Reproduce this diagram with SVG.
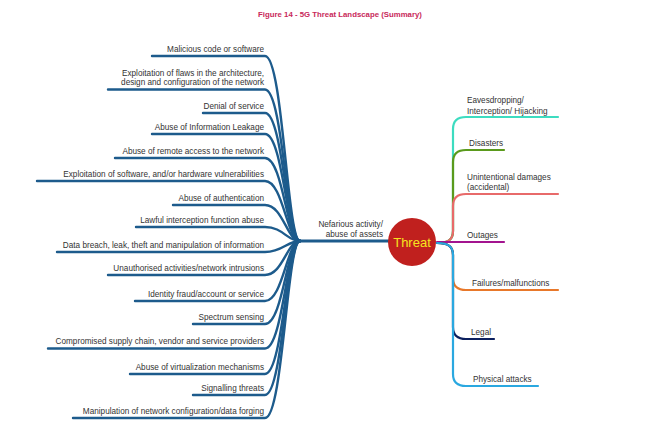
<svg xmlns="http://www.w3.org/2000/svg" width="650" height="439" viewBox="0 0 650 439">
<style>
.t{font-family:"Liberation Sans",Arial,sans-serif;font-size:8.2px;fill:#333}
.l{text-anchor:end}
.b{fill:none;stroke:#1d5b8c;stroke-width:2.4;stroke-linecap:round}
.r{fill:none;stroke-width:2.2;stroke-linecap:round}
</style>
<rect width="650" height="439" fill="#fff"/>
<text x="340" y="17" text-anchor="middle" style="font-family:'Liberation Sans',Arial,sans-serif;font-size:7.8px;font-weight:bold;fill:#c8285a">Figure 14 - 5G Threat Landscape (Summary)</text>
<g id="connectors">
<path class="b" d="M152,56 L265,56 C283,56 287,241 300,241"/>
<path class="b" d="M108,89.5 L265,89.5 C283,89.5 287,241 300,241"/>
<path class="b" d="M203,113 L265,113 C283,113 287,241 300,241"/>
<path class="b" d="M152,134 L265,134 C283,134 287,241 300,241"/>
<path class="b" d="M115,158 L265,158 C283,158 287,241 300,241"/>
<path class="b" d="M37,181 L265,181 C283,181 287,241 300,241"/>
<path class="b" d="M173,205 L265,205 C283,205 287,241 300,241"/>
<path class="b" d="M136,227 L265,227 C283,227 287,241 300,241"/>
<path class="b" d="M57,252 L265,252 C283,252 287,241 300,241"/>
<path class="b" d="M108,275 L265,275 C283,275 287,241 300,241"/>
<path class="b" d="M135,301 L265,301 C283,301 287,241 300,241"/>
<path class="b" d="M193,324 L265,324 C283,324 287,241 300,241"/>
<path class="b" d="M48,348.5 L265,348.5 C283,348.5 287,241 300,241"/>
<path class="b" d="M130,374 L265,374 C283,374 287,241 300,241"/>
<path class="b" d="M193,395 L265,395 C283,395 287,241 300,241"/>
<path class="b" d="M73,418 L265,418 C283,418 287,241 300,241"/>
<path class="b" d="M300,241 L390,241" style="stroke-width:2.8"/>
<path class="r" stroke="#3ddcc0" d="M437,243 C449,243 453,239 453,231 L453,129 C453,121 457,117 466,117 L558,117"/>
<path class="r" stroke="#5a9a1c" d="M437,243 C449,243 453,239 453,231 L453,162 C453,154 457,150 466,150 L504,150"/>
<path class="r" stroke="#e86a6a" d="M437,243 C449,243 453,239 453,231 L453,206 C453,198 457,194 466,194 L558,194"/>
<path class="r" stroke="#a3148f" d="M437,242 L504,242"/>
<path class="r" stroke="#e8782a" d="M437,243 C449,243 453,247 453,255 L453,278 C453,286 457,290 466,290 L558,290"/>
<path class="r" stroke="#0b1f5e" d="M437,243 C449,243 453,247 453,255 L453,327 C453,335 457,339 466,339 L494,339"/>
<path class="r" stroke="#2aa8e0" d="M437,243 C449,243 453,247 453,255 L453,374 C453,382 457,386 466,386 L538,386"/>
</g>
<g id="center">
<circle cx="412" cy="242" r="24" fill="#c0201e"/>
<text x="412" y="247" text-anchor="middle" style="font-family:'Liberation Sans',Arial,sans-serif;font-size:13px;fill:#f6e41e">Threat</text>
</g>
<g id="nefarious"><text class="t l" x="383" y="227">Nefarious activity/</text><text class="t l" x="383" y="237">abuse of assets</text></g>
<g id="n1"><text class="t l" x="264" y="52">Malicious code or software</text></g>
<g id="n2"><text class="t l" x="264" y="75.5">Exploitation of flaws in the architecture,</text><text class="t l" x="264" y="85">design and configuration of the network</text></g>
<g id="n3"><text class="t l" x="264" y="109">Denial of service</text></g>
<g id="n4"><text class="t l" x="264" y="130">Abuse of Information Leakage</text></g>
<g id="n5"><text class="t l" x="264" y="153.5">Abuse of remote access to the network</text></g>
<g id="n6"><text class="t l" x="264" y="176.5">Exploitation of software, and/or hardware vulnerabilities</text></g>
<g id="n7"><text class="t l" x="264" y="200.5">Abuse of authentication</text></g>
<g id="n8"><text class="t l" x="264" y="222.5">Lawful interception function abuse</text></g>
<g id="n9"><text class="t l" x="264" y="247.5">Data breach, leak, theft and manipulation of information</text></g>
<g id="n10"><text class="t l" x="264" y="271">Unauthorised activities/network intrusions</text></g>
<g id="n11"><text class="t l" x="264" y="296.5">Identity fraud/account or service</text></g>
<g id="n12"><text class="t l" x="264" y="320">Spectrum sensing</text></g>
<g id="n13"><text class="t l" x="264" y="344">Compromised supply chain, vendor and service providers</text></g>
<g id="n14"><text class="t l" x="264" y="370">Abuse of virtualization mechanisms</text></g>
<g id="n15"><text class="t l" x="264" y="391">Signalling threats</text></g>
<g id="n16"><text class="t l" x="264" y="413.5">Manipulation of network configuration/data forging</text></g>
<g id="r1"><text class="t" x="467" y="103">Eavesdropping/</text><text class="t" x="467" y="113.5">Interception/ Hijacking</text></g>
<g id="r2"><text class="t" x="469" y="146">Disasters</text></g>
<g id="r3"><text class="t" x="467" y="179.5">Unintentional damages</text><text class="t" x="467" y="190">(accidental)</text></g>
<g id="r4"><text class="t" x="467" y="237.5">Outages</text></g>
<g id="r5"><text class="t" x="472" y="286">Failures/malfunctions</text></g>
<g id="r6"><text class="t" x="471" y="334.5">Legal</text></g>
<g id="r7"><text class="t" x="473" y="382">Physical attacks</text></g>
</svg>
